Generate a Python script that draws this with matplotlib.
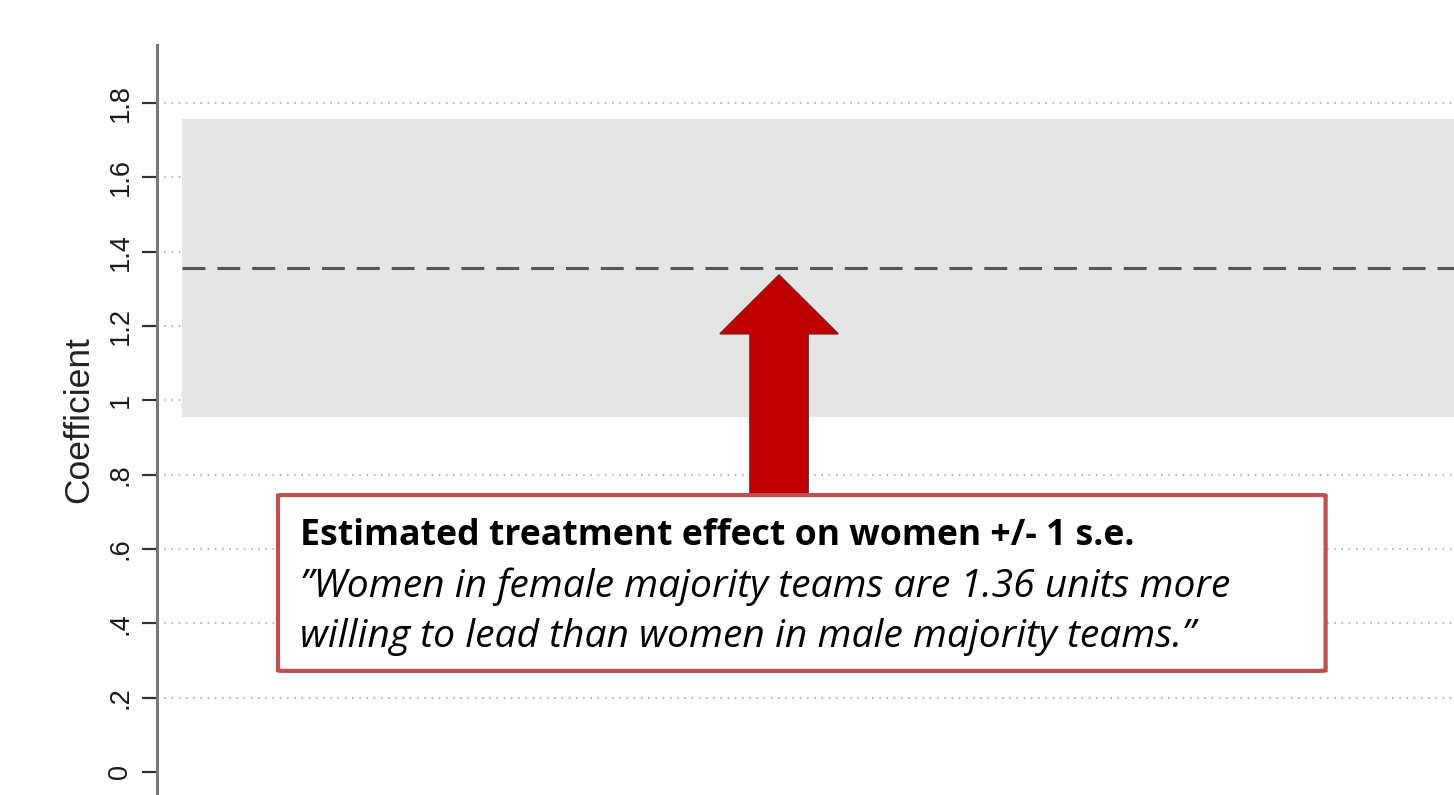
import numpy as np
import matplotlib.pyplot as plt
from matplotlib import transforms
from matplotlib.patches import Polygon, FancyBboxPatch

# values
estimate = 1.356
std_err = 0.40
y_ticks = [0, 0.2, 0.4, 0.6, 0.8, 1.0, 1.2, 1.4, 1.6, 1.8]
y_tick_labels = ["0", ".2", ".4", ".6", ".8", "1", "1.2", "1.4", "1.6", "1.8"]
box_title = "Estimated treatment effect on women +/- 1 s.e."
box_lines = ["\u201dWomen in female majority teams are 1.36 units more",
             "willing to lead than women in male majority teams.\u201d"]

plt.rcParams['lines.scale_dashes'] = False

fig = plt.figure(figsize=(14.54, 7.95), dpi=100)
ax = fig.add_axes([157 / 1454, 0, 1297 / 1454, 750 / 795])
ax.set_xlim(0, 1)
ax.set_ylim(-0.062, 1.956)

# grid (dotted), under the band
for t in y_ticks[1:]:
    ax.axhline(t, color='#b8b8b8', lw=1.6, ls=(0, (1.2, 4.0)), zorder=1)

# +/- 1 s.e. band and point estimate
ax.fill_between([0.0193, 1.0], estimate - std_err, estimate + std_err,
                color='#e5e5e5', lw=0, zorder=2)
ax.plot([0.0193, 1.0], [estimate, estimate], color='#555555', lw=2.2,
        ls=(0, (16.5, 8.6)), zorder=3)

ax.set_yticks(y_ticks)
ax.set_yticklabels(y_tick_labels, rotation=90, va='center',
                   fontsize=19.5, family='Liberation Sans', color='#1a1a1a')
ax.tick_params(axis='y', length=11, width=1.6, color='#333333', pad=6)
ax.set_xticks([])
ax.set_ylabel("Coefficient", fontsize=25.5, family='Liberation Sans',
              color='#222222', labelpad=9)
for s in ['top', 'right', 'bottom']:
    ax.spines[s].set_visible(False)
ax.spines['left'].set_color('#777777')
ax.spines['left'].set_linewidth(2.2)

# red arrow pointing at the estimate
tr = transforms.blended_transform_factory(ax.transAxes, ax.transData)
cx = 0.4796
arrow = Polygon([(cx, 1.337), (cx + 0.0455, 1.179), (cx + 0.0224, 1.179),
                 (cx + 0.0224, 0.74), (cx - 0.0224, 0.74), (cx - 0.0224, 1.179),
                 (cx - 0.0455, 1.179)], closed=True, transform=tr,
                facecolor='#c00000', edgecolor='#8c1a1a', lw=1.2, zorder=5)
ax.add_patch(arrow)

# annotation box
box = FancyBboxPatch((0.0933, 0.272), 0.8077, 0.473,
                     boxstyle='round,pad=0,rounding_size=0.004',
                     transform=tr, facecolor='white', edgecolor='#c0504d',
                     lw=3, zorder=6, mutation_aspect=0.3)
ax.add_patch(box)
ax.text(0.110, 0.611, box_title, transform=tr, fontsize=25.7,
        fontweight='bold', family='Open Sans', color='black', zorder=7)
ax.text(0.110, 0.470, box_lines[0], transform=tr, fontsize=28.1,
        style='italic', family='Open Sans', color='black', zorder=7)
ax.text(0.110, 0.337, box_lines[1], transform=tr, fontsize=28.1,
        style='italic', family='Open Sans', color='black', zorder=7)

fig.savefig("out.png", dpi=100, facecolor='white')
